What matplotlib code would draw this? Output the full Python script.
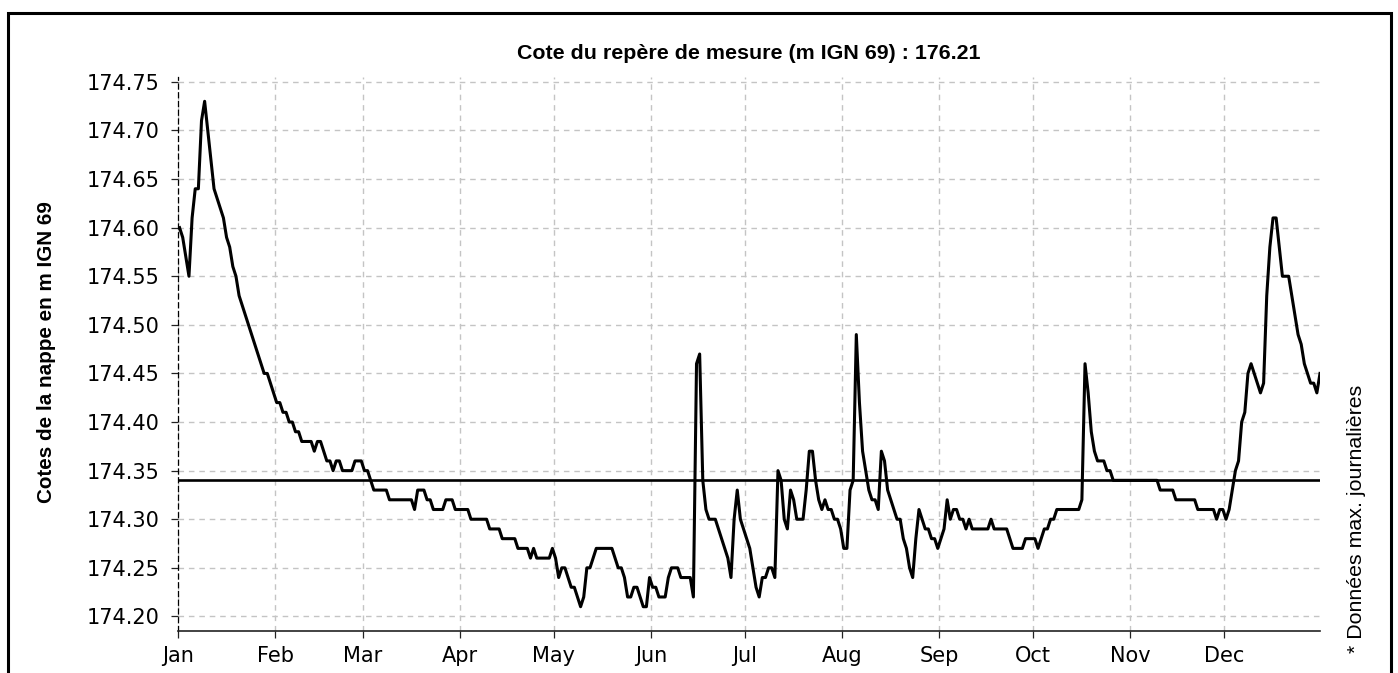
import matplotlib
matplotlib.use("Agg")
import matplotlib.pyplot as plt
from matplotlib.patches import Rectangle
import numpy as np
import pandas as pd

year = 2019
month_labels = ["Jan", "Feb", "Mar", "Apr", "May", "Jun",
                "Jul", "Aug", "Sep", "Oct", "Nov", "Dec"]

jan = [174.60, 174.59, 174.57, 174.55, 174.61, 174.64, 174.64, 174.71, 174.73, 174.70,
       174.67, 174.64, 174.63, 174.62, 174.61, 174.59, 174.58, 174.56, 174.55, 174.53,
       174.52, 174.51, 174.50, 174.49, 174.48, 174.47, 174.46, 174.45, 174.45, 174.44,
       174.43]
feb = [174.42, 174.42, 174.41, 174.41, 174.40, 174.40, 174.39, 174.39, 174.38,
       174.38, 174.38, 174.38, 174.37, 174.38, 174.38, 174.37, 174.36, 174.36, 174.35,
       174.36, 174.36, 174.35, 174.35, 174.35, 174.35, 174.36, 174.36, 174.36]
mar = [174.35,
       174.35, 174.34, 174.33, 174.33, 174.33, 174.33, 174.33, 174.32, 174.32, 174.32,
       174.32, 174.32, 174.32, 174.32, 174.32, 174.31, 174.33, 174.33, 174.33, 174.32,
       174.32, 174.31, 174.31, 174.31, 174.31, 174.32, 174.32, 174.32, 174.31, 174.31]
apr = [174.31, 174.31, 174.31, 174.30, 174.30, 174.30, 174.30, 174.30, 174.30, 174.29,
       174.29, 174.29, 174.29, 174.28, 174.28, 174.28, 174.28, 174.28, 174.27, 174.27,
       174.27, 174.27, 174.26, 174.27, 174.26, 174.26, 174.26, 174.26, 174.26, 174.27]
may = [174.26, 174.24, 174.25, 174.25, 174.24, 174.23, 174.23, 174.22, 174.21, 174.22,
       174.25, 174.25, 174.26, 174.27, 174.27, 174.27, 174.27, 174.27, 174.27, 174.26,
       174.25, 174.25, 174.24, 174.22, 174.22, 174.23, 174.23, 174.22, 174.21, 174.21,
       174.24]
jun = [174.23, 174.23, 174.22, 174.22, 174.22, 174.24, 174.25, 174.25, 174.25,
       174.24, 174.24, 174.24, 174.24, 174.22, 174.46, 174.47, 174.34, 174.31, 174.30,
       174.30, 174.30, 174.29, 174.28, 174.27, 174.26, 174.24, 174.30, 174.33, 174.30,
       174.29]
jul = [174.28, 174.27, 174.25, 174.23, 174.22, 174.24, 174.24, 174.25, 174.25,
       174.24, 174.35, 174.34, 174.30, 174.29, 174.33, 174.32, 174.30, 174.30, 174.30,
       174.33, 174.37, 174.37, 174.34, 174.32, 174.31, 174.32, 174.31, 174.31, 174.30,
       174.30, 174.29]
aug = [174.27, 174.27, 174.33, 174.34, 174.49, 174.42, 174.37, 174.35,
       174.33, 174.32, 174.32, 174.31, 174.37, 174.36, 174.33, 174.32, 174.31, 174.30,
       174.30, 174.28, 174.27, 174.25, 174.24, 174.28, 174.31, 174.30, 174.29, 174.29,
       174.28, 174.28, 174.27]
sep = [174.28, 174.29, 174.32, 174.30, 174.31, 174.31, 174.30,
       174.30, 174.29, 174.30, 174.29, 174.29, 174.29, 174.29, 174.29, 174.29, 174.30,
       174.29, 174.29, 174.29, 174.29, 174.29, 174.28, 174.27, 174.27, 174.27, 174.27,
       174.28, 174.28, 174.28]
oct_ = [174.28, 174.27, 174.28, 174.29, 174.29, 174.30, 174.30,
        174.31, 174.31, 174.31, 174.31, 174.31, 174.31, 174.31, 174.31, 174.32, 174.46,
        174.43, 174.39, 174.37, 174.36, 174.36, 174.36, 174.35, 174.35, 174.34, 174.34,
        174.34, 174.34, 174.34, 174.34]
nov = [174.34, 174.34, 174.34, 174.34, 174.34, 174.34, 174.34, 174.34, 174.34,
       174.33, 174.33, 174.33, 174.33, 174.33,
       174.32, 174.32, 174.32, 174.32, 174.32, 174.32, 174.32,
       174.31, 174.31, 174.31, 174.31, 174.31, 174.31,
       174.30, 174.31, 174.31]
dec = [174.30, 174.31, 174.33, 174.35, 174.36, 174.40, 174.41, 174.45, 174.46, 174.45,
       174.44, 174.43, 174.44, 174.53, 174.58, 174.61, 174.61, 174.58, 174.55, 174.55,
       174.55, 174.53, 174.51, 174.49, 174.48, 174.46, 174.45, 174.44, 174.44, 174.43,
       174.45]

reference_level = 174.34
title_text = "Cote du repère de mesure (m IGN 69) : 176.21"
ylabel_text = "Cotes de la nappe en m IGN 69"
note_text = "* Données max. journalières"

levels = jan + feb + mar + apr + may + jun + jul + aug + sep + oct_ + nov + dec
dates = pd.date_range(f"{year}-01-01 12:00", periods=len(levels), freq="D")

W, H = 1398, 673
fig = plt.figure(figsize=(W / 100, H / 100), dpi=100)
ax = fig.add_axes([178 / W, 1 - 631 / H, (1320 - 178) / W, (631 - 77) / H])

ax.plot(dates, levels, color="black", lw=2.2, zorder=3)
ax.axhline(reference_level, color="black", lw=1.9, zorder=3)

ax.set_xlim(pd.Timestamp(f"{year}-01-01"), pd.Timestamp(f"{year}-12-31 12:00"))
ax.set_ylim(174.185, 174.755)
ax.set_yticks(np.arange(174.20, 174.76, 0.05))
ax.yaxis.set_major_formatter(matplotlib.ticker.FormatStrFormatter("%.2f"))
month_starts = [pd.Timestamp(f"{year}-{m:02d}-01") for m in range(1, 13)]
ax.set_xticks(month_starts)
ax.set_xticklabels(month_labels)

ax.grid(True, color="#c4c4c4", lw=1.0, linestyle=(0, (4, 3.5)))
ax.set_axisbelow(True)
for s in ("top", "right"):
    ax.spines[s].set_visible(False)
ax.spines["left"].set_linestyle((0, (4, 3)))
ax.spines["left"].set_linewidth(0.9)
ax.spines["left"].set_color("black")
ax.spines["bottom"].set_linewidth(1.2)
ax.spines["bottom"].set_color("#222222")

ax.tick_params(axis="both", labelsize=15, length=5, width=0.9, color="#222222")
ax.tick_params(axis="y", pad=8)
ax.tick_params(axis="x", pad=6)

ax.set_title(title_text, fontsize=15.4, fontweight="bold",
             family=["Liberation Sans", "DejaVu Sans"], pad=13)
fig.text(46 / W, 1 - 352 / H, ylabel_text, rotation=90, ha="center", va="center",
         fontsize=14.9, fontweight="bold", family=["Liberation Sans", "DejaVu Sans"])
fig.text(1356 / W, 1 - 519 / H, note_text, rotation=90, ha="center", va="center",
         fontsize=15.4, family=["Liberation Sans", "DejaVu Sans"])

fig.patches.append(Rectangle((7.5 / W, -0.05), (1391 - 7.5) / W, 1 - 12.5 / H + 0.05,
                             transform=fig.transFigure, fill=False,
                             edgecolor="black", lw=2.2))

fig.savefig("out.png", dpi=100)
